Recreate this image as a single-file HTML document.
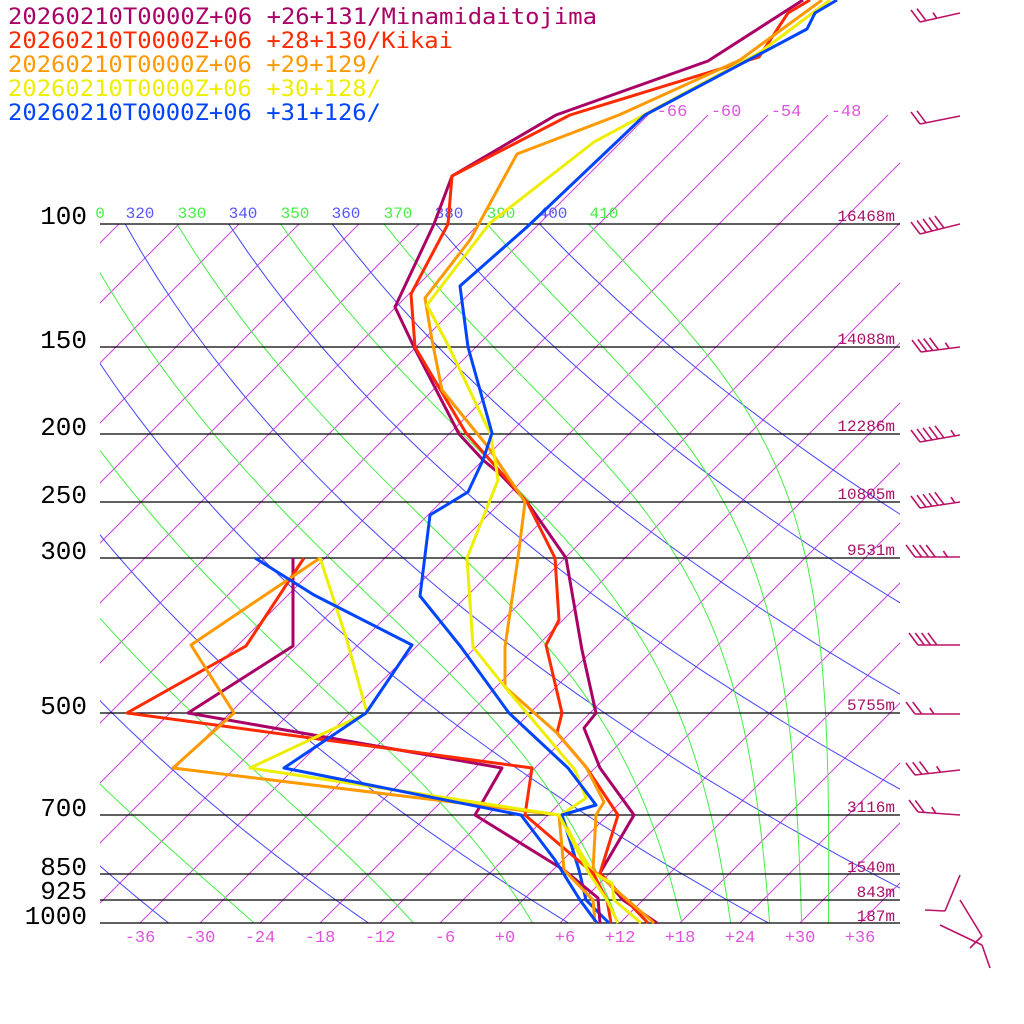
<!DOCTYPE html>
<html><head><meta charset="utf-8"><style>
html,body{margin:0;padding:0;background:#fff;width:1024px;height:1024px;overflow:hidden}
svg{display:block}
.leg{font-family:"DejaVu Sans Mono","Liberation Mono",monospace;font-size:22px}
.pl{font-family:"Liberation Mono",monospace;font-size:26px;fill:#000}
.hl{font-family:"Liberation Mono",monospace;font-size:16px;fill:#aa1166;text-anchor:end}
.tl{font-family:"Liberation Mono",monospace;font-size:17px;fill:#dd55dd;text-anchor:middle}
.th{font-family:"Liberation Mono",monospace;font-size:16px;text-anchor:middle}
</style></head><body>
<svg id="s" width="1024" height="1024" viewBox="0 0 1024 1024" xmlns="http://www.w3.org/2000/svg">
<defs>
<clipPath id="ca"><rect x="100" y="224" width="800" height="699"/></clipPath>
<clipPath id="ci"><rect x="100" y="115" width="800" height="808"/></clipPath>
</defs>
<g id="bg"></g>
<g stroke="#000" stroke-width="1.3">
<line x1="100" y1="224" x2="900" y2="224"/><line x1="100" y1="347" x2="900" y2="347"/>
<line x1="100" y1="434" x2="900" y2="434"/><line x1="100" y1="502" x2="900" y2="502"/>
<line x1="100" y1="558" x2="900" y2="558"/><line x1="100" y1="713" x2="900" y2="713"/>
<line x1="100" y1="815" x2="900" y2="815"/><line x1="100" y1="874" x2="900" y2="874"/>
<line x1="100" y1="900" x2="900" y2="900"/><line x1="100" y1="923" x2="900" y2="923"/>
</g>
<g class="pl" text-anchor="end">
<text x="87" y="224">100</text><text x="87" y="348">150</text><text x="87" y="435">200</text>
<text x="87" y="503">250</text><text x="87" y="559">300</text><text x="87" y="714">500</text>
<text x="87" y="816">700</text><text x="87" y="875">850</text><text x="87" y="899">925</text><text x="87" y="924">1000</text>
</g>
<g class="hl">
<text x="895" y="221">16468m</text><text x="895" y="344">14088m</text><text x="895" y="431">12286m</text>
<text x="895" y="499">10805m</text><text x="895" y="555">9531m</text><text x="895" y="710">5755m</text>
<text x="895" y="812">3116m</text><text x="895" y="872">1540m</text><text x="895" y="897">843m</text><text x="895" y="921">187m</text>
</g>
<g class="tl">
<text x="140" y="942">-36</text><text x="200" y="942">-30</text><text x="260" y="942">-24</text><text x="320" y="942">-18</text>
<text x="380" y="942">-12</text><text x="445" y="942">-6</text><text x="505" y="942">+0</text><text x="565" y="942">+6</text>
<text x="620" y="942">+12</text><text x="680" y="942">+18</text><text x="740" y="942">+24</text><text x="800" y="942">+30</text><text x="860" y="942">+36</text>
<text x="672" y="116">-66</text><text x="726" y="116">-60</text><text x="786" y="116">-54</text><text x="846" y="116">-48</text>
</g>
<g class="th">
<text x="100" y="218" fill="#44ee44">0</text>
<text x="140" y="218" fill="#5555ff">320</text><text x="192" y="218" fill="#44ee44">330</text>
<text x="243" y="218" fill="#5555ff">340</text><text x="295" y="218" fill="#44ee44">350</text>
<text x="346" y="218" fill="#5555ff">360</text><text x="398" y="218" fill="#44ee44">370</text>
<text x="449" y="218" fill="#5555ff">380</text><text x="501" y="218" fill="#44ee44">390</text>
<text x="553" y="218" fill="#5555ff">400</text><text x="604" y="218" fill="#44ee44">410</text>
</g>
<g fill="none" stroke-width="3" stroke-linejoin="round">
<polyline stroke="#aa0066" points="803,0 708,61 556,115 452,176 434,224 395,307 414,347 459,434 483,460 500,474 527,502 566,558 582,650 596,713 584,728 600,768 634,815 600,873 623,900 657,923"/>
<polyline stroke="#ff2a00" points="810,0 788,13 759,57 570,115 452,176 448,224 411,294 415,347 466,433 490,460 527,502 555,558 559,620 546,645 562,713 557,733 586,767 618,815 600,873 648,923"/>
<polyline stroke="#ff9900" points="822,0 740,60 619,115 517,154 470,240 425,298 432,340 442,390 488,447 525,502 518,558 505,647 505,687 557,733 586,767 604,802 596,815 593,870 654,923"/>
<polyline stroke="#eeee00" points="830,0 759,53 594,142 490,223 427,305 449,347 490,433 495,460 498,480 467,558 473,647 505,687 575,770 586,798 561,815 575,843 593,873 612,883 614,900 641,923"/>
<polyline stroke="#0044ff" points="837,0 815,13 807,29 645,115 527,227 460,286 468,347 492,433 483,460 468,492 430,515 420,596 461,647 509,713 568,768 596,805 562,815 579,870 586,900 609,923"/>
<polyline stroke="#aa0066" points="293,558 293,646 188,713 502,768 475,815 564,870 598,898 600,923"/>
<polyline stroke="#ff2a00" points="304,558 246,646 127,713 532,768 525,815 593,873 607,900 611,923"/>
<polyline stroke="#ff9900" points="320,558 191,645 234,713 173,768 559,815 564,870 593,900 595,923"/>
<polyline stroke="#eeee00" points="320,558 346,637 367,713 250,768 559,815 589,873 607,900 618,923"/>
<polyline stroke="#0044ff" points="255,558 314,595 412,645 366,713 284,768 521,815 555,860 580,900 597,923"/>
</g>
<g id="wind" fill="none" stroke="#bb1166" stroke-width="1.6"></g>
<g class="leg">
<text x="8" y="24" fill="#aa0066" textLength="589" lengthAdjust="spacingAndGlyphs">20260210T0000Z+06 +26+131/Minamidaitojima</text>
<text x="8" y="48" fill="#ff2a00" textLength="445" lengthAdjust="spacingAndGlyphs">20260210T0000Z+06 +28+130/Kikai</text>
<text x="8" y="72" fill="#ff9900" textLength="373" lengthAdjust="spacingAndGlyphs">20260210T0000Z+06 +29+129/</text>
<text x="8" y="96" fill="#eeee00" textLength="373" lengthAdjust="spacingAndGlyphs">20260210T0000Z+06 +30+128/</text>
<text x="8" y="120" fill="#0044ff" textLength="373" lengthAdjust="spacingAndGlyphs">20260210T0000Z+06 +31+126/</text>
</g>
</svg>
<script>
(function(){
var NS="http://www.w3.org/2000/svg",bg=document.getElementById("bg");
function Y(p){return 923-303.6*Math.log(1000/p);}
function X(T,y){return 500+10*T+(923-y);}
function path(pts,col,clip,w){var d="";pts.forEach(function(q,i){d+=(i?"L":"M")+q[0].toFixed(1)+","+q[1].toFixed(1);});
var e=document.createElementNS(NS,"path");e.setAttribute("d",d);e.setAttribute("stroke",col);e.setAttribute("fill","none");
e.setAttribute("stroke-width",w||1);e.setAttribute("clip-path","url(#"+clip+")");bg.appendChild(e);}
for(var T=-150;T<=60;T+=6){path([[X(T,923),923],[X(T,0),0]],"#cc44dd",T>=-66?"ci":"ca");}
var ps=[];for(var p=1050;p>=90;p-=10)ps.push(p);
for(var th=200;th<=400;th+=20){var pts=ps.map(function(p){var T=th*Math.pow(p/1000,0.2857)-273.15;var y=Y(p);return [X(T,y),y];});path(pts,"#4444ff","ca");}
function the(Tc,p){var TK=Tc+273.15;var es=6.112*Math.exp(17.67*Tc/(Tc+243.5));var r=0.622*es/Math.max(p-es,1);return TK*Math.pow(1000/p,0.2857)*Math.exp(2.75e6*r/(1004*TK));}
for(var te=190;te<=410;te+=20){var pts=[];ps.forEach(function(p){var lo=-160,hi=60;if(the(hi,p)<te)return;for(var k=0;k<50;k++){var m=(lo+hi)/2;if(the(m,p)<te)lo=m;else hi=m;}var y=Y(p);pts.push([X(lo,y),y]);});if(pts.length>1)path(pts,"#44ee44","ca");}
var w=document.getElementById("wind");
function ln(a,b,c,d){var e=document.createElementNS(NS,"line");e.setAttribute("x1",a);e.setAttribute("y1",b);e.setAttribute("x2",c);e.setAttribute("y2",d);w.appendChild(e);}
var rows=[[920,22,960,13,2,1],[920,124,960,116,2,0],[920,234,960,224,5,0],[921,352,960,347,4,1],[920,442,960,435,5,1],[920,508,960,502,5,1],[915,557,960,557,4,1],[918,645,960,645,4,0],[915,714,960,714,2,1],[915,775,960,770,3,1],[918,812,960,815,2,1]];
rows.forEach(function(r){ln(r[0],r[1],r[2],r[3]);var sx=r[0],sy=r[1],dx=(r[2]-r[0])/40,dy=(r[3]-r[1])/40;
for(var i=0;i<r[4];i++){var bx=sx+i*6*dx,by=sy+i*6*dy;ln(bx,by,bx-9,by-12);}
if(r[5]){var i2=r[4]+0.5,bx=sx+i2*6*dx+2,by=sy+i2*6*dy;ln(bx,by,bx-4,by-6);}});
ln(925,910,945,911);ln(945,911,960,875);
ln(960,900,982,936);ln(940,925,982,945);ln(970,948,982,936);ln(982,945,990,968);
})();
</script>
</body></html>
